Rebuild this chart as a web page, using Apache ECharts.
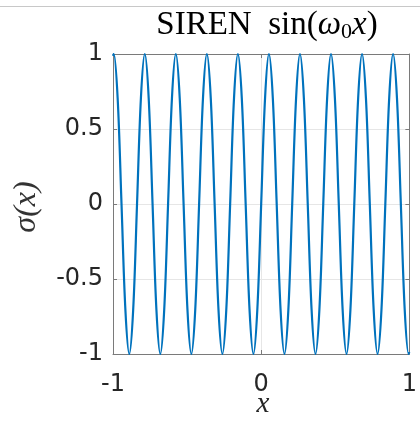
<!DOCTYPE html>
<html><head><meta charset="utf-8">
<script src="https://cdn.jsdelivr.net/npm/echarts@6/dist/echarts.min.js"></script>
<style>html,body{margin:0;padding:0;background:#fff}#c{width:420px;height:425px}</style>
</head><body><div id="c"></div>
<script>
// curve samples (extrema, half-heights and zero crossings)
const xs = [-1, -0.9948, -0.9687, -0.9425, -0.9163, -0.8901, -0.8639, -0.8378, -0.8116, -0.7854,
  -0.7592, -0.7330, -0.7069, -0.6807, -0.6545, -0.6283, -0.6021, -0.5760, -0.5498, -0.5236,
  -0.4974, -0.4712, -0.4451, -0.4189, -0.3927, -0.3665, -0.3403, -0.3142, -0.2880, -0.2618,
  -0.2356, -0.2094, -0.1833, -0.1571, -0.1309, -0.1047, -0.0785, -0.0524, -0.0262, 0,
  0.0262, 0.0524, 0.0785, 0.1047, 0.1309, 0.1571, 0.1833, 0.2094, 0.2356, 0.2618,
  0.2880, 0.3142, 0.3403, 0.3665, 0.3927, 0.4189, 0.4451, 0.4712, 0.4974, 0.5236,
  0.5498, 0.5760, 0.6021, 0.6283, 0.6545, 0.6807, 0.7069, 0.7330, 0.7592, 0.7854,
  0.8116, 0.8378, 0.8639, 0.8901, 0.9163, 0.9425, 0.9687, 0.9948, 1];
const ys = [0.988, 1, 0.707, 0, -0.707, -1, -0.707, 0, 0.707, 1,
  0.707, 0, -0.707, -1, -0.707, 0, 0.707, 1, 0.707, 0,
  -0.707, -1, -0.707, 0, 0.707, 1, 0.707, 0, -0.707, -1,
  -0.707, 0, 0.707, 1, 0.707, 0, -0.707, -1, -0.707, 0,
  0.707, 1, 0.707, 0, -0.707, -1, -0.707, 0, 0.707, 1,
  0.707, 0, -0.707, -1, -0.707, 0, 0.707, 1, 0.707, 0,
  -0.707, -1, -0.707, 0, 0.707, 1, 0.707, 0, -0.707, -1,
  -0.707, 0, 0.707, 1, 0.707, 0, -0.707, -1, -0.988];
const xTicks = [-1, 0, 1];
const yTicks = [-1, -0.5, 0, 0.5, 1];

const chart = echarts.init(document.getElementById('c'), null, {renderer: 'canvas'});
const axisCol = '#7a7a7a';
const labFont = {color: '#262626', fontFamily: 'DejaVu Sans', fontSize: 24};
chart.setOption({
  animation: false,
  backgroundColor: '#fff',
  grid: {left: 113, right: 7, top: 54, bottom: 71, containLabel: false},
  title: {
    text: '{n|SIREN  sin(}{i|ω}{s|0}{i|x}{n|)}',
    left: 262, top: 3, textAlign: 'center',
    textStyle: {
      fontWeight: 'normal',
      rich: {
        n: {fontFamily: 'Liberation Serif', fontWeight: 'normal', fontSize: 33, color: '#000'},
        i: {fontFamily: 'Liberation Serif', fontWeight: 'normal', fontStyle: 'italic', fontSize: 33, color: '#000'},
        s: {fontFamily: 'Liberation Serif', fontWeight: 'normal', fontSize: 22, color: '#000', padding: [13, 0, 0, 0]}
      }
    }
  },
  graphic: [
    {type: 'line', shape: {x1: 0, y1: 6.5, x2: 420, y2: 6.5}, style: {stroke: '#c8c8c8', lineWidth: 1}},
    {type: 'text', x: 263, y: 404, style: {text: 'x', fontFamily: 'Liberation Serif', fontStyle: 'italic', fontSize: 29, fill: '#262626', align: 'center', verticalAlign: 'middle'}},
    {type: 'text', x: 27, y: 207, rotation: Math.PI / 2, style: {text: 'σ(x)', fontFamily: 'Liberation Serif', fontStyle: 'italic', fontSize: 32, fill: '#333', align: 'center', verticalAlign: 'middle'}}
  ],
  xAxis: [{
    type: 'value', min: -1, max: 1, interval: 1, position: 'bottom',
    axisLine: {show: true, onZero: false, lineStyle: {color: axisCol, width: 1}},
    axisTick: {show: true, inside: true, length: 4, lineStyle: {color: axisCol}},
    axisLabel: Object.assign({margin: 19, formatter: v => xTicks.includes(v) ? String(v) : ''}, labFont),
    splitLine: {show: true, lineStyle: {color: '#e6e6e6', width: 1}}
  }, {
    type: 'value', min: -1, max: 1, interval: 1, position: 'top',
    axisLine: {show: true, onZero: false, lineStyle: {color: axisCol, width: 1}},
    axisTick: {show: true, inside: true, length: 4, lineStyle: {color: axisCol}},
    axisLabel: {show: false}, splitLine: {show: false}
  }],
  yAxis: [{
    type: 'value', min: -1, max: 1, interval: 0.5, position: 'left',
    axisLine: {show: true, onZero: false, lineStyle: {color: axisCol, width: 1}},
    axisTick: {show: true, inside: true, length: 4, lineStyle: {color: axisCol}},
    axisLabel: Object.assign({margin: 10, formatter: v => yTicks.includes(v) ? String(v) : ''}, labFont),
    splitLine: {show: true, lineStyle: {color: '#e6e6e6', width: 1}}
  }, {
    type: 'value', min: -1, max: 1, interval: 0.5, position: 'right',
    axisLine: {show: true, onZero: false, lineStyle: {color: axisCol, width: 1}},
    axisTick: {show: true, inside: true, length: 4, lineStyle: {color: axisCol}},
    axisLabel: {show: false}, splitLine: {show: false}
  }],
  series: [{
    type: 'line', xAxisIndex: 0, yAxisIndex: 0,
    data: xs.map((x, i) => [x, ys[i]]),
    smooth: 0.35, showSymbol: false, clip: true,
    lineStyle: {color: '#0072BD', width: 2.2}
  }]
});
</script></body></html>
